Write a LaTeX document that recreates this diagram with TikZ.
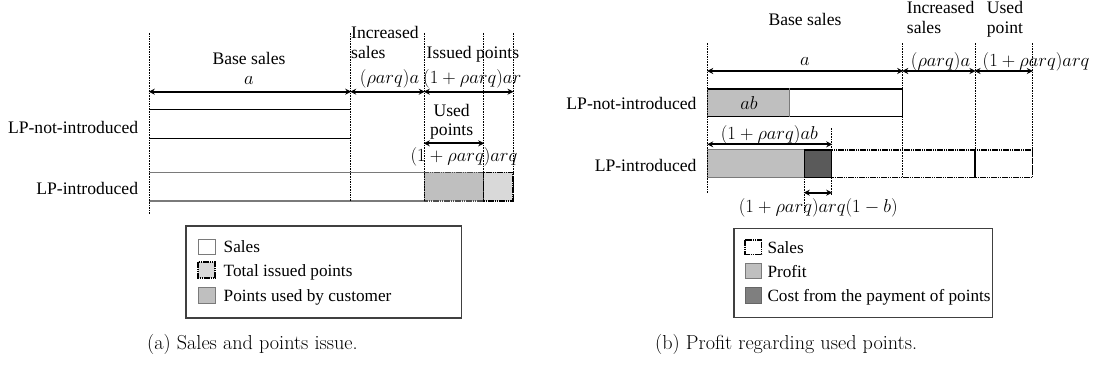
\RequirePackage{fix-cm}
\documentclass[tikz,border=0pt]{standalone}
\usepackage{fontspec}
\newfontfamily\tnr{Liberation Serif}
\usetikzlibrary{arrows.meta}
\definecolor{usedgray}{HTML}{BFBFBF}
\definecolor{issuegray}{HTML}{D9D9D9}
\definecolor{costgray}{HTML}{5A5A5A}
\definecolor{costkey}{HTML}{7F7F7F}
\definecolor{edgegray}{HTML}{7A7A7A}
\begin{document}
\begin{tikzpicture}[x=1pt,y=-1pt,
  lbl/.style={font=\tnr\fontsize{17.6}{20}\selectfont, inner sep=0pt},
  keylbl/.style={font=\tnr\fontsize{17.2}{20}\selectfont, inner sep=0pt, anchor=base west},
  mlbl/.style={font=\fontsize{18.6}{21}\selectfont, inner sep=0pt},
  captext/.style={font=\fontsize{20.2}{24}\selectfont, inner sep=0pt, anchor=base west},
  guide/.style={dash pattern=on 1.6pt off 1pt, line width=0.8pt, black},
  dim/.style={{Stealth[length=6pt,width=6pt]}-{Stealth[length=6pt,width=6pt]}, line width=1.8pt, shorten <=-0.5pt, shorten >=-0.5pt},
  thinbar/.style={line width=1pt, black},
  graybar/.style={line width=1.2pt, edgegray},
  dotbox/.style={draw=black, line width=1.5pt, dash pattern=on 1.6pt off 0.6pt},
  legendframe/.style={draw=black!75, line width=1.2pt},
  keysq/.style={draw=edgegray, line width=1pt},
]
\useasboundingbox (0,0) rectangle (1097,374);

% ---------------- (a) sales and points issue ----------------
% column boundaries
\coordinate (La) at (149.3,0);
\coordinate (Lb) at (350.7,0);
\coordinate (Lc) at (424.3,0);
\coordinate (Ld) at (483.7,0);
\coordinate (Le) at (513,0);

% LP-not-introduced bar (top and bottom edges)
\draw[thinbar] (La |- 0,109.3) -- (Lb |- 0,109.3);
\draw[thinbar] (La |- 0,138.3) -- (Lb |- 0,138.3);

% LP-introduced bar
\fill[white] (La |- 0,172.3) rectangle (Le |- 0,201);
\draw[graybar] (La |- 0,172.3) -- (Lc |- 0,172.3);
\draw[graybar] (La |- 0,201) -- (Lc |- 0,201);
\filldraw[fill=usedgray, draw=black!70, line width=1.2pt, dash pattern=on 1.6pt off 0.6pt]
  (Lc |- 0,172.3) rectangle (Ld |- 0,201);
\filldraw[fill=issuegray, dotbox] (Ld |- 0,172.3) rectangle (Le |- 0,201);

% dotted guides
\draw[guide] (La |- 0,33) -- (La |- 0,215);
\draw[guide] (Lb |- 0,33) -- (Lb |- 0,201);
\draw[guide] (Lc |- 0,33) -- (Lc |- 0,201);
\draw[guide] (Ld |- 0,33) -- (Ld |- 0,201);
\draw[guide] (Le |- 0,33) -- (Le |- 0,201);

% dimension arrows
\coordinate (LA0) at (La |- 0,91.7);
\coordinate (LA1) at (Lb |- 0,91.7);
\coordinate (LA2) at (Lc |- 0,91.7);
\coordinate (LA3) at (Le |- 0,91.7);
\draw[dim] (LA0) -- (LA1);
\draw[dim] (LA1) -- (LA2);
\draw[dim] (LA2) -- (LA3);
\coordinate (LU0) at (Lc |- 0,143.3);
\coordinate (LU1) at (Ld |- 0,143.3);
\draw[dim] (LU0) -- (LU1);

% labels
\node[lbl, anchor=base] (lbase) at (249,65) {Base sales};
\node[mlbl] (lbasea) at (249,80.5) {$a$};
\node[lbl, anchor=base west] (linc1) at (351,38.3) {Increased};
\node[lbl, anchor=base west] (linc2) at (351,58.3) {sales};
\node[mlbl] (lincv) at (389.5,79) {$(\rho arq)a$};
\node[lbl, anchor=base west] (liss) at (426.5,58.3) {Issued points};
\node[mlbl, anchor=west] (lissv) at (423,79) {$(1+\rho arq)ar$};
\node[lbl, anchor=base] (lused1) at (451.7,116.7) {Used};
\node[lbl, anchor=base] (lused2) at (451.7,136) {points};
\node[mlbl] (lusedv) at (464,156.7) {$(1+\rho arq)arq$};
\node[lbl, anchor=base east] (lrow1) at (138.3,133.3) {LP-not-introduced};
\node[lbl, anchor=base east] (lrow2) at (138.3,195) {LP-introduced};

% legend
\draw[legendframe] (186,226) rectangle (461.5,318);
\filldraw[keysq, fill=white] (198,239) rectangle (215,254);
\filldraw[fill=issuegray, dotbox, line width=1.3pt] (198,262) rectangle (215,278);
\filldraw[keysq, fill=usedgray] (198,287) rectangle (215,303);
\node[keylbl] (lk1) at (223.5,252.5) {Sales};
\node[keylbl] (lk2) at (223.5,276.5) {Total issued points};
\node[keylbl] (lk3) at (223.5,301) {Points used by customer};

\node[captext] (capa) at (147,349) {(a) Sales and points issue.};

% ---------------- (b) profit regarding used points ----------------
\coordinate (Ra) at (707.7,0);
\coordinate (Rp) at (789,0);
\coordinate (Rc) at (804.3,0);
\coordinate (Rd) at (831.7,0);
\coordinate (Rb) at (902.7,0);
\coordinate (Re) at (975,0);
\coordinate (Rf) at (1032.3,0);

% LP-not-introduced bar
\filldraw[fill=white, draw=black, line width=1.4pt] (Ra |- 0,89) rectangle (Rb |- 0,116.7);
\filldraw[fill=usedgray, draw=edgegray, line width=1pt] (Ra |- 0,89) rectangle (Rp |- 0,116.7);
\draw[black, line width=1.4pt] (Ra |- 0,89) -- (Rp |- 0,89);
\draw[black, line width=1.4pt] (Ra |- 0,116.7) -- (Rp |- 0,116.7);

% LP-introduced bar
\filldraw[fill=white, dotbox] (Rd |- 0,150) rectangle (Rf |- 0,177.7);
\filldraw[fill=usedgray, draw=edgegray, line width=1pt] (Ra |- 0,150) rectangle (Rc |- 0,177.7);
\filldraw[fill=costgray, draw=black, line width=1.2pt] (Rc |- 0,150) rectangle (Rd |- 0,177.7);
\draw[black, line width=2.2pt] (Re |- 0,150) -- (Re |- 0,177.7);

% dotted guides
\draw[guide] (Ra |- 0,43.3) -- (Ra |- 0,193.3);
\draw[guide] (Rb |- 0,43.3) -- (Rb |- 0,177.7);
\draw[guide] (Re |- 0,43.3) -- (Re |- 0,177.7);
\draw[guide] (Rf |- 0,43.3) -- (Rf |- 0,177.7);
\draw[guide] (Rd |- 0,128.3) -- (Rd |- 0,195);
\draw[guide] (Rc |- 0,150) -- (Rc |- 0,213);

% dimension arrows
\coordinate (RA0) at (Ra |- 0,71);
\coordinate (RA1) at (Rb |- 0,71);
\coordinate (RA2) at (Re |- 0,71);
\coordinate (RA3) at (Rf |- 0,71);
\draw[dim] (RA0) -- (RA1);
\draw[dim] (RA1) -- (RA2);
\draw[dim] (RA2) -- (RA3);
\coordinate (RP0) at (Ra |- 0,144.3);
\coordinate (RP1) at (Rd |- 0,144.3);
\draw[dim] (RP0) -- (RP1);
\coordinate (RC0) at (Rc |- 0,192.7);
\coordinate (RC1) at (Rd |- 0,192.7);
\draw[dim] (RC0) -- (RC1);

% labels
\node[lbl, anchor=base] (rbase) at (805,26) {Base sales};
\node[lbl, anchor=base west] (rinc1) at (906.7,14) {Increased};
\node[lbl, anchor=base west] (rinc2) at (906.7,33.5) {sales};
\node[lbl, anchor=base west] (rused1) at (986.7,14) {Used};
\node[lbl, anchor=base west] (rused2) at (986.7,33.5) {point};
\node[mlbl] (rbasea) at (805,61.7) {$a$};
\node[mlbl] (rincv) at (940.5,61.7) {$(\rho arq)a$};
\node[mlbl, anchor=west] (rusedv) at (982.5,61.7) {$(1+\rho arq)arq$};
\node[mlbl] (rab) at (749,103.3) {$ab$};
\node[mlbl] (rprofit) at (769.3,135) {$(1+\rho arq)ab$};
\node[mlbl] (rcost) at (818.3,208.3) {$(1+\rho arq)arq(1-b)$};
\node[lbl, anchor=base east] (rrow1) at (696.7,110) {LP-not-introduced};
\node[lbl, anchor=base east] (rrow2) at (696.7,171.7) {LP-introduced};

% legend
\draw[legendframe] (734,228.3) rectangle (992.3,317.7);
\filldraw[fill=white, dotbox, line width=1.3pt] (745,240) rectangle (761.7,254.3);
\filldraw[keysq, fill=usedgray] (745,263.3) rectangle (761.7,278.3);
\filldraw[keysq, fill=costkey, draw=black!60] (745,287) rectangle (761.7,303);
\node[keylbl] (rk1) at (767.3,253) {Sales};
\node[keylbl] (rk2) at (767.3,277) {Profit};
\node[keylbl] (rk3) at (767.3,301) {Cost from the payment of points};

\node[captext] (capb) at (655,349) {(b) Profit regarding used points.};
\end{tikzpicture}
\end{document}
